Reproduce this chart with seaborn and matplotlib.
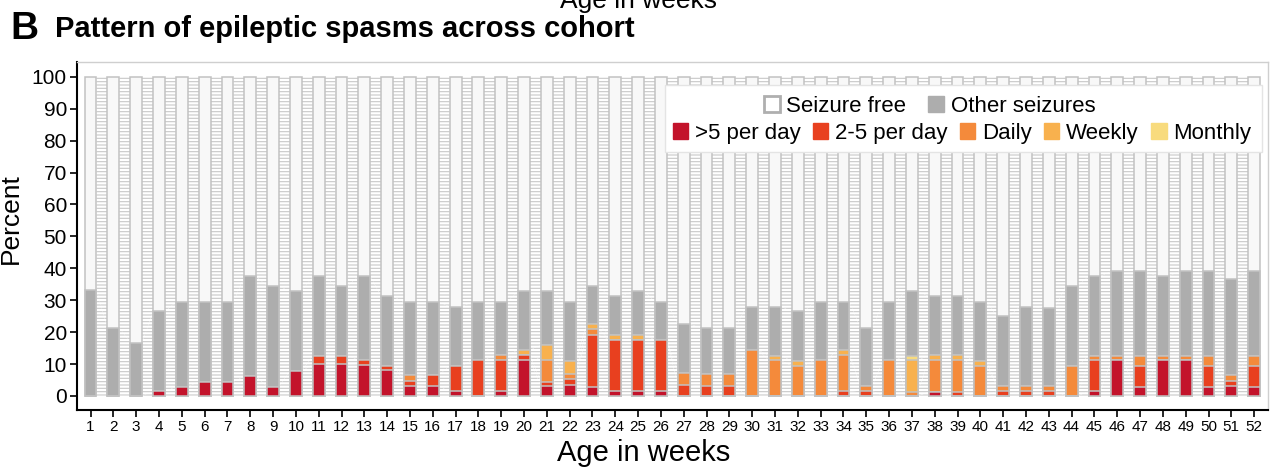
import numpy as np
import pandas as pd
import matplotlib
matplotlib.use("Agg")
import matplotlib.pyplot as plt
from matplotlib.patches import Patch, Rectangle
import seaborn as sns

# percentages per week of age
weeks = list(range(1, 53))
gt5_per_day = [0, 0, 0, 1.4, 2.9, 4.4, 4.4, 6.2, 2.9, 7.8,
               9.9, 9.9, 9.7, 8.1, 3.2, 3.1, 1.4, 0, 1.4, 11.3,
               3.1, 3.4, 2.9, 1.4, 1.4, 1.4, 0, 0, 0, 0,
               0, 0, 0, 0, 0, 0, 0, 1.3, 0, 0,
               0, 0, 0, 0, 1.4, 11.1, 2.9, 11.1, 11.1, 2.9,
               3.1, 2.9]
two_five_per_day = [0, 0, 0, 0, 0, 0, 0, 0, 0, 0,
                    2.7, 2.7, 1.6, 1.4, 1.6, 3.5, 8.0, 11.3, 9.9, 1.5,
                    1.4, 1.8, 16.2, 16.2, 16.2, 16.2, 3.4, 3.2, 3.2, 0,
                    0, 0, 0, 1.4, 1.6, 0, 0, 0, 1.3, 0,
                    1.6, 1.6, 1.6, 0, 9.7, 0, 6.5, 0, 0, 6.5,
                    1.7, 6.5]
daily = [0, 0, 0, 0, 0, 0, 0, 0, 0, 0,
         0, 0, 0, 0, 1.6, 0, 0, 0, 1.5, 0,
         6.8, 1.8, 1.9, 0, 0, 0, 3.7, 3.6, 3.6, 14.4,
         11.1, 9.4, 11.3, 11.4, 1.5, 11.3, 1.3, 10.0, 10.0, 9.4,
         1.5, 1.5, 1.5, 9.4, 1.5, 1.5, 3.2, 1.5, 1.5, 3.2,
         1.8, 3.2]
weekly = [0, 0, 0, 0, 0, 0, 0, 0, 0, 0,
          0, 0, 0, 0, 0, 0, 0, 0, 0, 1.6,
          4.7, 3.8, 1.6, 1.5, 1.5, 0, 0, 0, 0, 0,
          1.5, 1.6, 0, 1.6, 0, 0, 9.9, 1.4, 1.4, 1.6,
          0, 0, 0, 0, 0, 0, 0, 0, 0, 0,
          0, 0]
monthly = [0] * 36 + [1.4] + [0] * 15
any_seizures = [33.3, 21.4, 16.7, 26.5, 29.4, 29.4, 29.4, 37.5, 34.4, 32.8,
                37.5, 34.4, 37.5, 31.2, 29.4, 29.4, 28.0, 29.4, 29.4, 32.8,
                32.8, 29.4, 34.4, 31.2, 32.8, 29.4, 22.5, 21.4, 21.4, 28.0,
                28.0, 26.5, 29.4, 29.4, 21.4, 29.4, 32.8, 31.2, 31.2, 29.4,
                25.0, 28.0, 27.5, 34.4, 37.5, 39.1, 39.1, 37.5, 39.1, 39.1,
                36.7, 39.1]

categories = [">5 per day", "2-5 per day", "Daily", "Weekly", "Monthly",
              "Other seizures", "Seizure free"]
colors = ["#C3132B", "#E8401F", "#F48A3B", "#F8B14E", "#F8DB7D",
          "#ADADAD", "#F8F8F8"]
edge = "#C2C2C2"

df = pd.DataFrame({"week": weeks, ">5 per day": gt5_per_day,
                   "2-5 per day": two_five_per_day, "Daily": daily,
                   "Weekly": weekly, "Monthly": monthly})
df["Other seizures"] = np.array(any_seizures) - df[categories[:5]].sum(axis=1)
df["Seizure free"] = 100 - np.array(any_seizures)
cum = df[categories].cumsum(axis=1)

sns.set_theme(style="ticks")
plt.rcParams["font.family"] = ["Liberation Sans", "DejaVu Sans"]
plt.rcParams["hatch.linewidth"] = 0.8
for key in ["text.color", "axes.labelcolor", "xtick.color", "ytick.color"]:
    plt.rcParams[key] = "black"

fig = plt.figure(figsize=(12.77, 4.68), dpi=100)
ax = fig.add_axes([0.060, 0.124, 0.933, 0.744])

bw = 0.52

# flows between neighbouring weeks (faint hatched bands)
for i in range(len(weeks) - 1):
    xa = weeks[i] + bw / 2
    xb = weeks[i + 1] - bw / 2
    for cat in categories:
        hi_a, hi_b = cum[cat].iloc[i], cum[cat].iloc[i + 1]
        lo_a = hi_a - df[cat].iloc[i]
        lo_b = hi_b - df[cat].iloc[i + 1]
        if hi_a - lo_a <= 0 and hi_b - lo_b <= 0:
            continue
        ax.fill([xa, xb, xb, xa], [lo_a, lo_b, hi_b, hi_a],
                facecolor="white", edgecolor="#C9C9C9", hatch="-----",
                linewidth=0, zorder=1)

# stacked bars: draw cumulative totals from the top layer down
for cat, col in zip(categories[::-1], colors[::-1]):
    sns.barplot(x=df["week"], y=cum[cat], native_scale=True, width=bw,
                color=col, saturation=1, edgecolor=edge, linewidth=1.1,
                ax=ax, zorder=3)

ax.set_xlim(0.39, 52.61)
ax.set_ylim(-4.4, 104.7)
ax.set_xticks(weeks)
ax.set_xticklabels([str(w) for w in weeks], fontsize=11)
ax.set_yticks(range(0, 101, 10))
ax.set_yticklabels([str(v) for v in range(0, 101, 10)], fontsize=15)
ax.tick_params(axis="both", length=5, width=1.2, color="black", pad=2)
ax.set_xlabel("Age in weeks", fontsize=21)
ax.set_ylabel("Percent", fontsize=19)
ax.xaxis.set_label_coords(0.476, -0.082)
ax.yaxis.set_label_coords(-0.045, 0.549)
for s in ["left", "bottom"]:
    ax.spines[s].set_color("black")
    ax.spines[s].set_linewidth(1.5)
for s in ["top", "right"]:
    ax.spines[s].set_color("#CFCFCF")
    ax.spines[s].set_linewidth(1.0)

# legend on a white panel
ax.add_patch(Rectangle((0.494, 0.741), 0.501, 0.193, transform=ax.transAxes,
                       facecolor="white", edgecolor="#E4E4E4", linewidth=1,
                       zorder=5))
top_handles = [Patch(facecolor="white", edgecolor="#AFAFAF", linewidth=2,
                     label="Seizure free"),
               Patch(facecolor=colors[5], edgecolor=colors[5],
                     label="Other seizures")]
bot_handles = [Patch(facecolor=c, edgecolor=c, label=l)
               for c, l in zip(colors[:5], categories[:5])]
leg_kw = dict(loc="center", frameon=False, fontsize=16, handlelength=0.7,
              handleheight=0.7, handletextpad=0.3, borderaxespad=0)
leg1 = ax.legend(handles=top_handles, ncol=2, bbox_to_anchor=(0.716, 0.872),
                 columnspacing=1.0, **leg_kw)
leg1.set_zorder(6)
ax.add_artist(leg1)
leg2 = ax.legend(handles=bot_handles, ncol=5, bbox_to_anchor=(0.743, 0.794),
                 columnspacing=0.55, **leg_kw)
leg2.set_zorder(6)

fig.text(0.5, 0.998, "Age in weeks", ha="center", va="center", fontsize=19)
fig.text(0.008, 0.937, "B", ha="left", va="center", fontsize=28,
         fontweight="bold")
fig.text(0.043, 0.937, "Pattern of epileptic spasms across cohort", ha="left",
         va="center", fontsize=21, fontweight="bold")

fig.savefig("out.png", dpi=100)
